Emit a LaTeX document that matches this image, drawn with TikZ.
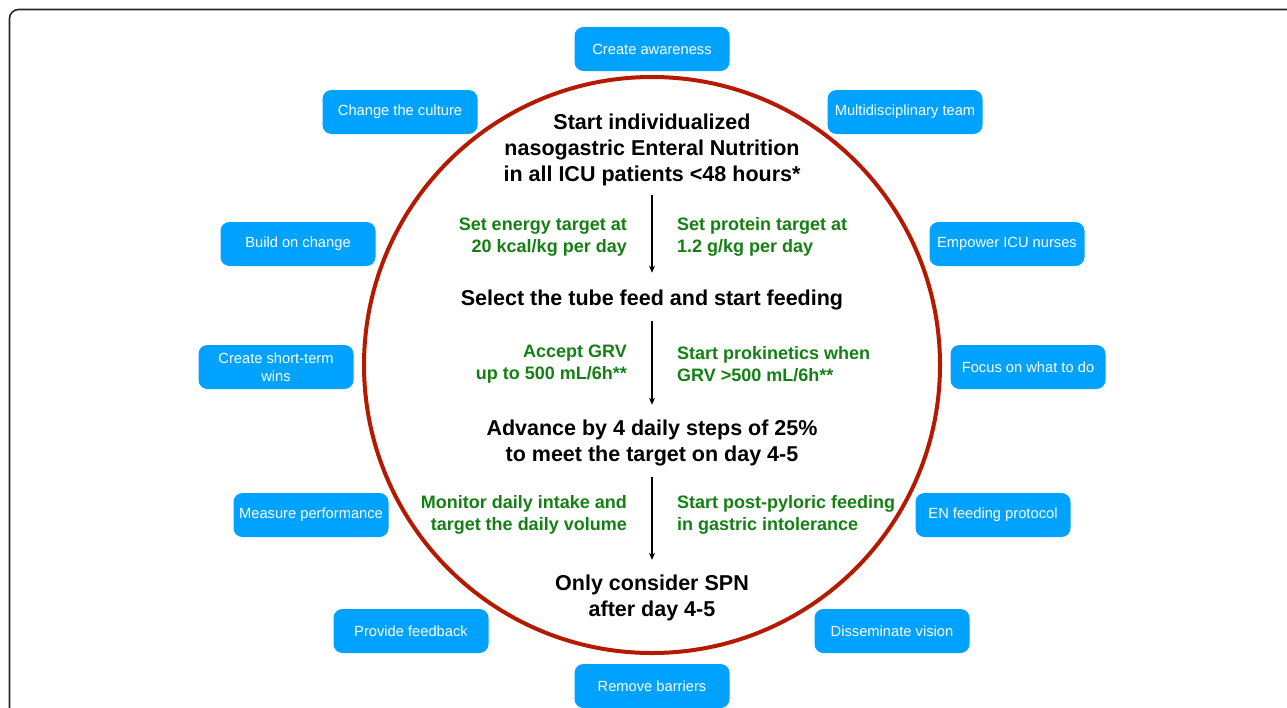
\documentclass[tikz,border=0pt]{standalone}
\usepackage{fontspec}
\setmainfont{Liberation Sans}
\usetikzlibrary{arrows.meta}
\definecolor{boxblue}{RGB}{0,162,255}
\definecolor{ringred}{RGB}{181,26,0}
\definecolor{stepgreen}{RGB}{20,128,20}
\tikzset{
  x=1pt, y=-1pt,
  actbox/.style={rectangle, rounded corners=9pt, fill=boxblue, text=white,
    minimum width=155pt, minimum height=44pt, inner sep=2pt, align=center,
    font=\fontsize{14.7}{18}\selectfont},
  mainstep/.style={align=center, inner sep=0pt, text=black,
    font=\fontsize{21.5}{26}\selectfont\bfseries},
  gleft/.style={align=right, anchor=east, inner sep=0pt, text=stepgreen,
    font=\fontsize{18}{22}\selectfont\bfseries},
  gright/.style={align=left, anchor=west, inner sep=0pt, text=stepgreen,
    font=\fontsize{18}{22}\selectfont\bfseries},
  flow/.style={line width=1.3pt, -{Stealth[length=7pt,width=6pt]}, shorten <=11pt, shorten >=15pt}
}
\begin{document}
\begin{tikzpicture}
\useasboundingbox (0,0) rectangle (1287,707);
\begin{scope}
\clip (0,0) rectangle (1287,707);
\draw[line width=1.6pt, draw=black!85, rounded corners=9pt] (9.5,9.5) rectangle (1320,740);
\end{scope}
% ring
\draw[ringred, line width=4pt] (652,365) circle[radius=288];
% boxes
\node[actbox] (aw) at (652,49) {Create awareness};
\node[actbox] (cu) at (400,112) {Change the culture};
\node[actbox] (mt) at (905,112) {Multidisciplinary team};
\node[actbox] (bc) at (298,244) {Build on change};
\node[actbox] (en) at (1007,244) {Empower ICU nurses};
\node[actbox] (sw) at (276,367) {Create short-term\\wins};
\node[actbox] (fo) at (1028,367) {Focus on what to do};
\node[actbox] (mp) at (311,515) {Measure performance};
\node[actbox] (ep) at (993,515) {EN feeding protocol};
\node[actbox] (pf) at (411,631) {Provide feedback};
\node[actbox] (dv) at (892,631) {Disseminate vision};
\node[actbox] (rb) at (652,686) {Remove barriers};
% main steps
\node[mainstep] (s1) at (652,150) {Start individualized\\nasogastric Enteral Nutrition\\in all ICU patients <48 hours*};
\node[mainstep] (s2) at (652,300) {Select the tube feed and start feeding};
\node[mainstep] (s3) at (652,443) {Advance by 4 daily steps of 25\%\\to meet the target on day 4-5};
\node[mainstep] (s4) at (652,598) {Only consider SPN\\after day 4-5};
% green notes
\node[gleft] (g1l) at (627,237) {Set energy target at\\20 kcal/kg per day};
\node[gright] (g1r) at (677,237) {Set protein target at\\1.2 g/kg per day};
\node[gleft] (g2l) at (627,364) {Accept GRV\\up to 500 mL/6h**};
\node[gright] (g2r) at (677,364) {Start prokinetics when\\GRV >500 mL/6h**};
\node[gleft] (g3l) at (627,515) {Monitor daily intake and\\target the daily volume};
\node[gright] (g3r) at (677,515) {Start post-pyloric feeding\\in gastric intolerance};
% arrows
\draw[flow, shorten <=9pt, shorten >=17pt] (s1) -- (s2);
\draw[flow, shorten <=11pt, shorten >=15pt] (s2) -- (s3);
\draw[flow, shorten <=11pt, shorten >=15pt] (s3) -- (s4);
\end{tikzpicture}
\end{document}
